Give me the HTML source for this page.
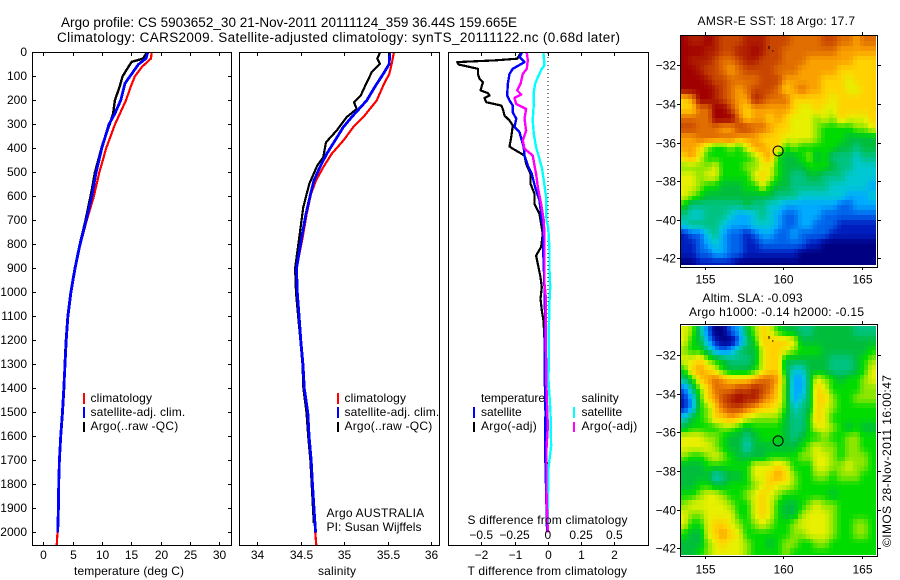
<!DOCTYPE html>
<html>
<head>
<meta charset="utf-8">
<title>Argo profile chart</title>
<style>
html,body{margin:0;padding:0;background:#fff;}
svg{display:block;}
text{font-family:"Liberation Sans",sans-serif;font-size:12px;fill:#000;}
.frame{fill:none;stroke:#000;stroke-width:1;shape-rendering:crispEdges;}
.bar{shape-rendering:crispEdges;}
</style>
</head>
<body>
<svg id="chart" xmlns="http://www.w3.org/2000/svg" width="900" height="580" viewBox="0 0 900 580">
  <rect x="0" y="0" width="900" height="580" fill="#fff"/>
  <text x="61" y="27" style="font-size:13.5px" textLength="456" lengthAdjust="spacing">Argo profile: CS 5903652_30 21-Nov-2011 20111124_359 36.44S 159.665E</text>
  <text x="57" y="42" style="font-size:13.5px" textLength="563" lengthAdjust="spacing">Climatology: CARS2009. Satellite-adjusted climatology: synTS_20111122.nc (0.68d later)</text>

  <g id="layer-profiles"></g>
  <g id="layer-maps"></g>
  <g id="layer-axes"></g>

  <rect class="frame" x="32.5" y="52.5" width="199" height="493"/>
  <rect class="frame" x="239.5" y="52.5" width="200" height="493"/>
  <rect class="frame" x="448.5" y="52.5" width="200" height="493"/>

  <text x="74" y="575" textLength="110" lengthAdjust="spacing">temperature (deg C)</text>
  <text x="318" y="575" textLength="38" lengthAdjust="spacing">salinity</text>
  <text x="467.5" y="575" textLength="159.5" lengthAdjust="spacing">T difference from climatology</text>
  <text x="467.5" y="524" textLength="160" lengthAdjust="spacing">S difference from climatology</text>

  <g>
    <rect class="bar" x="83" y="393" width="2" height="11" fill="#f00"/>
    <text x="90.5" y="402" textLength="61.5" lengthAdjust="spacing">climatology</text>
    <rect class="bar" x="83" y="407" width="2" height="11" fill="#00f"/>
    <text x="90.5" y="416" textLength="94.7" lengthAdjust="spacing">satellite-adj. clim.</text>
    <rect class="bar" x="83" y="422" width="2" height="10" fill="#000"/>
    <text x="90.5" y="430" textLength="87.7" lengthAdjust="spacing">Argo(..raw -QC)</text>
  </g>
  <g>
    <rect class="bar" x="337" y="393" width="2" height="11" fill="#f00"/>
    <text x="344.5" y="402" textLength="61.5" lengthAdjust="spacing">climatology</text>
    <rect class="bar" x="337" y="407" width="2" height="11" fill="#00f"/>
    <text x="344.5" y="416" textLength="94.7" lengthAdjust="spacing">satellite-adj. clim.</text>
    <rect class="bar" x="337" y="422" width="2" height="10" fill="#000"/>
    <text x="344.5" y="430" textLength="87.7" lengthAdjust="spacing">Argo(..raw -QC)</text>
    <text x="326.5" y="517" textLength="97.7" lengthAdjust="spacing">Argo AUSTRALIA</text>
    <text x="326.5" y="531" textLength="95" lengthAdjust="spacing">PI: Susan Wijffels</text>
  </g>
  <g>
    <text x="481" y="402" textLength="64" lengthAdjust="spacing">temperature</text>
    <text x="581.5" y="402" textLength="37.3" lengthAdjust="spacing">salinity</text>
    <rect class="bar" x="473" y="407" width="2" height="11" fill="#00f"/>
    <text x="481" y="416" textLength="40.7" lengthAdjust="spacing">satellite</text>
    <rect class="bar" x="573" y="407" width="2" height="11" fill="#0ff"/>
    <text x="581.5" y="416" textLength="40.7" lengthAdjust="spacing">satellite</text>
    <rect class="bar" x="473" y="422" width="2" height="10" fill="#000"/>
    <text x="481" y="430" textLength="55.7" lengthAdjust="spacing">Argo(-adj)</text>
    <rect class="bar" x="573" y="422" width="2" height="10" fill="#f0f"/>
    <text x="581.5" y="430" textLength="55.7" lengthAdjust="spacing">Argo(-adj)</text>
  </g>

  <text x="697.5" y="25" textLength="157.5" lengthAdjust="spacing">AMSR-E SST: 18 Argo: 17.7</text>
  <text x="702.5" y="302" textLength="100" lengthAdjust="spacing">Altim. SLA: -0.093</text>
  <text x="689" y="316" textLength="175" lengthAdjust="spacing">Argo h1000: -0.14 h2000: -0.15</text>
  <text transform="rotate(-90 891 547)" x="891" y="547" textLength="172" lengthAdjust="spacing">©IMOS 28-Nov-2011 16:00:47</text>
</svg>

<script>
/* ---------- axis tick values and labels ---------- */
const depthTicks = [0,100,200,300,400,500,600,700,800,900,1000,1100,1200,1300,1400,1500,1600,1700,1800,1900,2000];
const tempTicks = [0,5,10,15,20,25,30];
const salTicks = [34,34.5,35,35.5,36];
const tDiffTicks = [-2,-1,0,1,2];
const sDiffTicks = [-0.5,-0.25,0,0.25,0.5];
const lonTicks = [155,160,165];
const latTicks = [-32,-34,-36,-38,-40,-42];

/* ---------- temperature profiles ---------- */
const climTempDepth = [0,25,60,100,143,199,300,400,500,600,700,800,900,1000,1100,1200,1300,1400,1500,1600,1700,1800,1900,2000,2054];
const climTemp = [18.46,18.35,16.8,15.6,14.9,14.1,12.2,10.7,9.55,8.6,7.4,6.3,5.45,4.75,4.25,3.9,3.7,3.5,3.27,3.0,2.75,2.62,2.55,2.42,2.28];
const satTempDepth = [0,25,50,74,129,199,254,299,400,499,601,700,800,900,1000,1100,1200,1300,1400,1500,1600,1700,1800,1900,2000];
const satTemp = [17.8,17.5,16.2,15.5,13.9,13.2,12.2,11.2,9.95,9.0,8.25,7.3,6.25,5.4,4.7,4.2,3.9,3.7,3.5,3.25,2.97,2.75,2.63,2.57,2.45];
const argoTempDepth = [0,25,39,60,100,143,199,255,300,381,500,575,700,800,900,1000,1100,1200,1300,1400,1500,1600,1700,1850,2000];
const argoTemp = [17.6,17.05,15.05,14.5,13.5,13,12.2,11.9,11.3,10.1,8.8,8.25,7.2,6.2,5.35,4.65,4.15,3.85,3.65,3.55,3.3,3,2.75,2.55,2.45];

/* ---------- salinity profiles ---------- */
const climSalDepth = [0,47,89,131,200,269,311,367,422,478,533,589,672,769,900,1000,1100,1200,1300,1400,1500,1600,1700,1800,1900,2000,2054];
const climSal = [35.57,35.545,35.517,35.456,35.372,35.218,35.103,34.989,34.855,34.759,34.675,34.617,34.568,34.522,34.45,34.46,34.48,34.5,34.525,34.537,34.575,34.59,34.617,34.632,34.648,34.667,34.678];
const satSalDepth = [0,47,89,131,200,269,311,367,422,478,533,589,672,769,900,1000,1100,1200,1300,1400,1500,1600,1700,1800,1900,2000];
const satSal = [35.52,35.517,35.448,35.372,35.257,35.085,34.989,34.893,34.798,34.72,34.652,34.613,34.56,34.51,34.45,34.46,34.48,34.5,34.525,34.54,34.58,34.595,34.62,34.635,34.652,34.67];
const argoSalDepth = [0,26,47,82,131,179,207,235,269,325,374,436,471,547,644,769,900,1000,1100,1200,1300,1400,1500,1600,1700,1800,1900,1960];
const argoSal = [35.41,35.379,35.41,35.315,35.25,35.189,35.111,35.143,35.028,34.913,34.79,34.759,34.69,34.598,34.529,34.483,34.435,34.445,34.47,34.495,34.52,34.53,34.565,34.585,34.61,34.625,34.64,34.65];

/* ---------- difference profiles ---------- */
const tArgoDiffDepth = [0,26,33,40,50,68,89,110,124,158,169,179,189,207,221,235,263,283,304,353,392,401,429,464,506,547,589,631,672,700,756,811,846,881,936,978,1026,1075,1117,1200,1400,1600,2000];
const tArgoDiff = [-0.8,-0.92,-1.6,-2.72,-2.68,-2.1,-2.1,-2.05,-1.95,-2.02,-1.8,-1.75,-1.9,-1.85,-1.4,-1.35,-1.3,-1.15,-1.05,-1.1,-1.15,-1.05,-0.7,-0.65,-0.52,-0.52,-0.4,-0.4,-0.25,-0.22,-0.15,-0.2,-0.35,-0.3,-0.22,-0.18,-0.22,-0.18,-0.13,-0.1,-0.06,-0.04,-0.02];
const tSatDiffDepth = [0,19,40,68,89,131,179,200,221,249,276,311,332,396,429,471,506,561,617,672,700,728,811,978,1100,1300,1500,1650,1820,2000];
const tSatDiff = [-0.78,-0.85,-0.7,-1.05,-1.15,-1.2,-1.22,-1.15,-1.05,-1.05,-0.95,-1,-0.85,-0.72,-0.7,-0.6,-0.48,-0.38,-0.25,-0.2,-0.18,-0.14,-0.14,-0.1,-0.08,-0.1,-0.07,-0.08,-0.05,-0.02];
const sSatDiffDepth = [0,54,68,103,131,165,214,283,339,394,443,485,533,603,700,728,825,908,978,1033,1144,1367,1500,1640,1730,1890,1990];
const sSatDiff = [-0.033,-0.025,-0.045,-0.075,-0.095,-0.105,-0.105,-0.113,-0.105,-0.088,-0.063,-0.043,-0.03,-0.013,-0.01,0.003,0.013,0.013,0.018,0.013,0.008,0.005,0.02,0.025,0.005,0,0];
const sArgoDiffDepth = [0,33,68,89,131,158,175,189,214,235,276,325,367,401,429,471,506,561,631,700,770,964,1020,1200,1400,1560,1650,1830,2000];
const sArgoDiff = [-0.158,-0.15,-0.158,-0.188,-0.205,-0.23,-0.2,-0.25,-0.238,-0.163,-0.175,-0.163,-0.188,-0.175,-0.113,-0.1,-0.088,-0.075,-0.05,-0.03,-0.025,-0.025,-0.015,-0.015,-0.01,0,-0.01,-0.01,0];

/* ---------- map grids: colour level per 0.5 degree cell, north to south ---------- */
const sstLevels = [
[15,14,14,15,14,13,13,13,14,14,14,13,13,13,12,12,12,12,13,13,12,12,11,12,12],
[15,15,15,14,14,13,13,14,14,15,14,13,13,12,12,12,12,12,12,12,11,11,11,11,11],
[15,14,14,14,13,12,12,13,14,14,13,13,13,12,12,12,11,11,11,11,11,11,10,10,10],
[15,15,14,13,13,12,11,12,13,13,13,13,12,12,12,11,11,11,11,11,10,10,10,10,10],
[15,15,15,14,13,13,12,12,12,12,13,13,13,11,11,11,11,11,10,10,10,9,10,10,10],
[15,15,15,15,14,13,12,11,12,13,13,13,12,10,11,12,11,11,10,10,10,9,9,10,10],
[10,11,15,15,14,13,12,11,11,14,13,12,12,12,10,10,10,10,10,9,10,10,10,10,10],
[10,10,12,12,15,15,13,11,10,11,11,11,11,11,10,9,9,10,9,9,10,10,10,10,10],
[12,12,12,12,15,15,15,12,10,11,11,10,11,10,9,9,9,8,9,8,10,9,9,9,10],
[13,13,12,12,12,11,11,13,13,12,12,11,10,10,9,9,9,8,7,7,7,7,8,8,9],
[11,11,12,12,12,12,12,11,11,11,10,10,10,9,9,9,9,8,7,7,7,6,6,6,6],
[11,11,10,8,7,7,8,7,9,11,11,10,10,7,8,7,7,7,7,7,6,6,5,6,6],
[10,11,9,7,7,7,7,7,7,8,10,11,7,6,6,7,8,6,7,5,5,5,4,5,5],
[8,8,8,8,9,7,7,7,8,8,9,9,7,6,6,6,7,7,7,6,5,5,4,4,4],
[9,9,8,9,9,7,7,7,7,9,10,9,7,6,5,5,6,6,5,5,5,4,4,4,4],
[9,9,8,7,7,6,6,6,7,7,9,7,6,6,5,5,5,5,5,4,4,4,4,4,3],
[9,8,7,6,6,6,6,6,6,6,6,6,5,5,5,4,4,4,4,4,4,3,3,3,4],
[7,5,5,5,5,5,5,5,6,5,5,4,4,3,3,3,3,3,3,3,2,2,3,3,3],
[5,4,4,5,5,5,4,3,3,4,5,4,3,2,2,3,3,3,2,2,2,2,2,2,2],
[4,5,5,5,5,4,3,3,3,4,4,4,3,2,2,3,3,2,2,2,1,1,1,1,1],
[1,2,2,4,5,3,2,2,1,2,3,3,2,2,3,2,2,2,2,1,1,1,1,1,1],
[1,1,2,3,4,3,2,2,1,1,2,2,2,2,2,2,1,1,0,0,0,0,0,0,0],
[1,1,2,2,3,3,2,2,1,1,1,1,1,1,1,0,0,0,0,0,0,0,0,0,0],
[0,0,1,1,1,1,1,0,0,0,0,0,0,0,0,0,0,0,0,0,0,0,0,0,0]
];
const slaLevels = [
[9,8,5,2,0,0,2,3,6,8,10,9,7,6,6,5,5,6,6,6,6,6,5,5,5],
[9,7,6,3,1,0,0,2,5,7,10,10,10,10,9,6,6,6,6,6,6,6,6,6,6],
[8,7,7,5,3,2,3,5,6,6,9,10,10,9,8,7,7,7,6,6,6,6,6,6,7],
[9,9,10,8,7,6,5,5,5,6,9,10,10,6,6,6,6,6,6,5,5,5,6,7,8],
[7,10,11,10,9,7,6,6,6,7,9,10,10,6,4,4,6,6,6,5,5,5,6,7,9],
[5,7,10,11,12,11,10,10,10,11,12,12,11,7,3,3,6,9,8,7,6,7,7,8,9],
[2,5,8,10,12,12,12,13,13,14,13,12,10,7,3,3,6,10,9,7,7,7,7,8,8],
[1,3,7,10,11,13,14,15,14,14,12,11,10,7,3,4,6,10,10,8,7,7,8,8,8],
[1,3,7,8,10,12,13,13,12,11,10,10,9,7,4,5,6,10,9,8,7,7,7,7,7],
[4,6,7,8,10,10,11,10,9,8,8,8,8,6,5,5,7,10,9,7,7,7,7,7,7],
[6,7,7,7,7,8,8,7,6,7,7,7,7,6,5,5,7,9,9,8,7,6,7,6,6],
[9,9,9,8,8,7,6,6,5,6,7,7,7,6,5,6,7,7,8,7,7,8,8,7,7],
[9,9,9,9,8,7,6,6,4,6,6,6,6,6,6,7,8,9,8,8,7,8,8,7,7],
[8,7,7,8,9,8,7,6,6,6,6,7,7,7,7,8,8,9,9,8,7,8,8,8,7],
[6,6,6,7,7,7,7,7,7,9,9,9,10,9,7,7,7,9,9,8,8,9,8,8,7],
[6,6,6,6,4,5,6,6,7,9,9,10,11,10,8,7,7,8,8,7,8,8,8,7,7],
[6,6,7,7,6,6,7,7,7,8,9,10,9,9,8,7,7,7,7,7,7,7,7,7,7],
[7,7,8,9,9,8,7,7,8,9,10,9,8,7,7,7,7,7,7,6,7,7,7,7,7],
[8,9,9,9,9,9,8,7,7,9,10,9,7,6,6,7,8,9,8,8,7,7,7,7,7],
[9,8,8,9,9,9,9,7,7,9,10,9,7,6,6,8,9,9,9,8,7,7,7,7,7],
[9,7,7,9,10,10,9,8,7,8,9,8,7,7,8,9,9,9,9,8,7,7,8,8,7],
[7,6,6,9,10,11,10,9,7,7,7,7,7,7,8,8,9,9,9,8,7,7,8,8,7],
[6,6,6,8,9,10,9,9,8,7,7,6,7,8,8,7,7,8,8,7,7,7,7,7,7],
[6,6,7,8,9,9,9,9,8,7,7,7,7,8,7,7,7,7,7,7,7,7,7,7,7]
];
const floatPosition = [159.665, -36.44];

/* ---------- drawing ---------- */
const NS = 'http://www.w3.org/2000/svg';
const profilesLayer = document.getElementById('layer-profiles');
const mapsLayer = document.getElementById('layer-maps');
const axesLayer = document.getElementById('layer-axes');

function make(tag, attrs, parent) {
  const node = document.createElementNS(NS, tag);
  for (const k in attrs) node.setAttribute(k, attrs[k]);
  parent.appendChild(node);
  return node;
}

/* axis functions */
const depthY = d => 52.5 + 0.24 * d;
const tempX = t => 43.3 + 5.867 * t;
const salX = s => 257.3 + 87 * (s - 34);
const tDiffX = t => 547.8 + 33.3 * t;
const sDiffX = s => 547.8 + 133.2 * s;
const lonX = lon => 705 + 15.67 * (lon - 155);
const sstLatY = lat => 65.3 + 19.3 * (-32 - lat);
const slaLatY = lat => 355.2 + 19.3 * (-32 - lat);

function drawProfile(depths, values, xScale, color, width) {
  const pts = depths.map((d, i) => xScale(values[i]).toFixed(1) + ',' + depthY(d).toFixed(1)).join(' ');
  return make('polyline', {points: pts, fill: 'none', stroke: color, 'stroke-width': width, 'stroke-linejoin': 'round', 'shape-rendering': 'crispEdges'}, profilesLayer);
}

/* dotted zero reference */
const zeroLine = make('line', {x1: tDiffX(0), x2: tDiffX(0), y1: 53, y2: depthY(1400), stroke: '#000', 'stroke-width': 1, 'stroke-dasharray': '1 3', 'shape-rendering': 'crispEdges'}, profilesLayer);



const lineClimTemp = drawProfile(climTempDepth, climTemp, tempX, '#f00', 2.2);


const lineArgoTemp = drawProfile(argoTempDepth, argoTemp, tempX, '#000', 2.4);


const lineSatTemp = drawProfile(satTempDepth, satTemp, tempX, '#00f', 2.8);



const lineClimSal = drawProfile(climSalDepth, climSal, salX, '#f00', 2.2);


const lineArgoSal = drawProfile(argoSalDepth, argoSal, salX, '#000', 2.2);


const lineSatSal = drawProfile(satSalDepth, satSal, salX, '#00f', 2.8);



const lineTArgoDiff = drawProfile(tArgoDiffDepth, tArgoDiff, tDiffX, '#000', 2.2);


const lineTSatDiff = drawProfile(tSatDiffDepth, tSatDiff, tDiffX, '#00f', 2.4);


const lineSSatDiff = drawProfile(sSatDiffDepth, sSatDiff, sDiffX, '#0ff', 2.4);


const lineSArgoDiff = drawProfile(sArgoDiffDepth, sArgoDiff, sDiffX, '#f0f', 2.4);



/* axes: ticks and labels */
const labelText = v => String(v).replace('-', '\u2212');
function tickLine(x1, y1, x2, y2) {
  const t = make('line', {x1: x1, y1: y1, x2: x2, y2: y2, stroke: '#000', 'stroke-width': 1, 'shape-rendering': 'crispEdges'}, axesLayer);
  
  
}
function tickText(x, y, anchor, str) {
  const t = make('text', {x: x, y: y, 'text-anchor': anchor}, axesLayer);
  t.textContent = str;
  
  
}

depthTicks.forEach(d => {
  const y = Math.floor(depthY(d)) + 0.5;
  tickLine(32, y, 36, y);
  tickLine(228, y, 232, y);
  tickText(27, y + 3.5, 'end', labelText(d));
});
function bottomAxis(values, scale, yLabel) {
  values.forEach(v => {
    const x = Math.round(scale(v)) + 0.5;
    tickLine(x, 52, x, 56);
    tickLine(x, 542, x, 546);
    tickText(x, yLabel, 'middle', labelText(v));
  });
}
bottomAxis(tempTicks, tempX, 559);
bottomAxis(salTicks, salX, 559);
bottomAxis(tDiffTicks, tDiffX, 559);
sDiffTicks.forEach(v => {
  tickText(sDiffX(v), 539, 'middle', labelText(v));
});

/* maps: colour ramp and grid sampling */
const levelColors = [[0,0,130],[0,30,190],[0,100,235],[0,170,255],[0,200,210],[0,195,130],[0,190,60],[0,220,0],[140,230,0],[230,240,0],[255,210,0],[250,160,0],[225,110,0],[200,70,0],[175,30,0],[160,0,0]];

function rampColor(level) {
  const lo = Math.max(0, Math.min(levelColors.length - 1, Math.floor(level)));
  const hi = Math.min(levelColors.length - 1, lo + 1);
  const f = level - lo;
  const mix = k => Math.round(levelColors[lo][k] * (1 - f) + levelColors[hi][k] * f);
  return 'rgb(' + mix(0) + ',' + mix(1) + ',' + mix(2) + ')';
}
function sampleGrid(levels, rowPos, colPos) {
  const clampR = r => Math.max(0, Math.min(levels.length - 1, r));
  const clampC = c => Math.max(0, Math.min(levels[0].length - 1, c));
  const r0 = Math.floor(rowPos - 0.5);
  const c0 = Math.floor(colPos - 0.5);
  const fr = rowPos - 0.5 - r0;
  const fc = colPos - 0.5 - c0;
  const a = levels[clampR(r0)][clampC(c0)];
  const b = levels[clampR(r0)][clampC(c0 + 1)];
  const c = levels[clampR(r0 + 1)][clampC(c0)];
  const d = levels[clampR(r0 + 1)][clampC(c0 + 1)];
  return (a * (1 - fc) + b * fc) * (1 - fr) + (c * (1 - fc) + d * fc) * fr;
}

function drawMap(levels, latY, top, bottom) {
  const subRows = levels.length * 2;
  const subCols = levels[0].length * 2;
  for (let j = 0; j < subRows; j++) {
    for (let i = 0; i < subCols; i++) {
      const lon0 = 153.42 + 0.25 * i;
      const lat0 = -30.5 - 0.25 * j;
      const x0 = Math.round(lonX(lon0));
      const x1 = Math.min(877, Math.round(lonX(lon0 + 0.25)));
      const y0 = Math.max(top, Math.round(latY(lat0)));
      const y1 = Math.min(bottom, Math.round(latY(lat0 - 0.25)));
      if (y1 <= y0 || x1 <= x0) continue;
      const level = sampleGrid(levels, (j + 0.5) / 2, (i + 0.5) / 2);
      const c = make('rect', {x: x0, y: y0, width: x1 - x0, height: y1 - y0, fill: rampColor(level), 'shape-rendering': 'crispEdges'}, mapsLayer);
      
      
    }
  }
}
drawMap(sstLevels, sstLatY, 36, 265);
drawMap(slaLevels, slaLatY, 325, 555);

function mapAxes(latY, top, bottom, labelY) {
  const f = make('rect', {x: 680.5, y: top + 0.5, width: 197, height: bottom - top, fill: 'none', stroke: '#000', 'shape-rendering': 'crispEdges'}, axesLayer);
  
  
  lonTicks.forEach(v => {
    const x = Math.round(lonX(v)) + 0.5;
    tickLine(x, top - 3, x, top);
    tickLine(x, bottom, x, bottom + 3);
    tickText(x, labelY, 'middle', labelText(v));
  });
  latTicks.forEach(v => {
    const y = Math.round(latY(v)) + 0.5;
    tickLine(677, y, 680, y);
    tickLine(878, y, 881, y);
    tickText(676, y + 4, 'end', labelText(v));
  });
  const mark = make('circle', {cx: lonX(floatPosition[0]), cy: latY(floatPosition[1]), r: 5, fill: 'none', stroke: '#000', 'stroke-width': 1}, axesLayer);
  
  
  const isle = make('path', {d: 'M769 ' + Math.round(latY(-30.98)) + 'v3M772 ' + Math.round(latY(-31.25)) + 'h1.5', stroke: '#000', 'stroke-width': 1, fill: 'none', 'shape-rendering': 'crispEdges'}, axesLayer);
  
  
}
mapAxes(sstLatY, 35, 267, 283.5);
mapAxes(slaLatY, 324, 556, 573.5);
</script>
</body>
</html>
